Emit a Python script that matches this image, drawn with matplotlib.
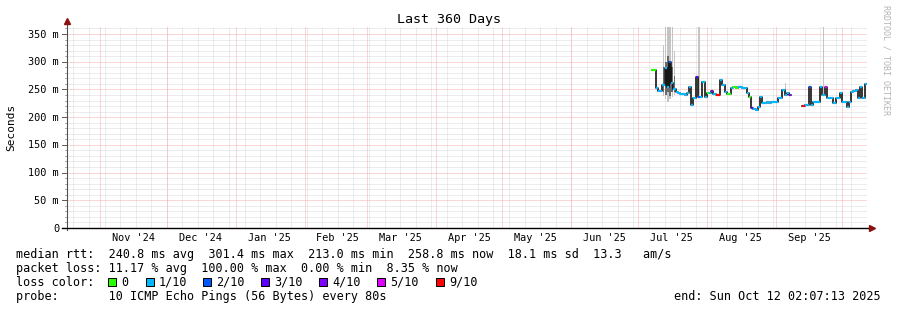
import numpy as np
import pandas as pd
import matplotlib
matplotlib.use("Agg")
import matplotlib.pyplot as plt
import matplotlib.dates as mdates
from matplotlib.patches import Rectangle

# time window of the graph
t_start = pd.Timestamp("2024-10-17 02:07:13")
t_end = pd.Timestamp("2025-10-12 02:07:13")

# one median rtt per day (ms), starting 2025-07-07, nan = no data
first_day = "2025-07-07"
median_ms = [285, 285, 252, 248, 247, 258, 289, 255, 300, 262,
             250, 246, 243, 242, 241, 240, 243, 255, 222, 234,
             272, 236, 237, 263, 236, 243, 243, 247, 242, 240,
             240, 267, 258, 245, 242, 242, 253, 254, 253, 254,
             254, 253, 253, 244, 237, 217, 215, 213, 218, 237,
             226, 226, 227, 226, 227, 228, 228, 235, 234, 249,
             240, 243, 240, np.nan, np.nan, np.nan, np.nan, np.nan, 220, 222,
             222, 255, 222, 227, 227, 228, 255, 240, 254, 235,
             234, 234, 225, 234, 234, 243, 228, 228, 219, 228,
             246, 248, 249, 235, 254, 235, 259]
# lost pings out of 10 per day
loss = [0, 0, 1, 1, 1, 1, 1, 1, 2, 1,
        1, 1, 1, 1, 1, 1, 1, 1, 1, 1,
        3, 2, 1, 1, 1, 0, 1, 4, 1, 9,
        9, 1, 1, 1, 0, 0, 1, 0, 0, 1,
        1, 1, 1, 1, 0, 3, 1, 1, 1, 1,
        1, 1, 1, 1, 1, 1, 1, 1, 1, 1,
        1, 1, 4, 0, 0, 0, 0, 0, 9, 1,
        1, 2, 1, 1, 1, 1, 1, 1, 5, 1,
        1, 1, 1, 1, 1, 1, 1, 1, 1, 1,
        1, 1, 1, 1, 1, 1, 1]

# smoke (spread of the single pings), day index -> min / max in ms
smoke_day = [5, 6, 7, 8, 9, 10, 21, 60, 77]
smoke_lo = [238, 232, 228, 232, 236, 240, 240, 245, 240]
smoke_hi = [330, 365, 365, 365, 365, 320, 365, 262, 365]
dense_day = [5, 6, 7, 8, 9, 10]
dense_lo = [245, 240, 245, 238, 245, 245]
dense_hi = [290, 300, 310, 300, 290, 275]

loss_colors = {0: "#26ff00", 1: "#00b8ff", 2: "#0059ff", 3: "#5e00ff",
               4: "#7e00ff", 5: "#dd00ff", 9: "#ff0000"}
legend_loss = [0, 1, 2, 3, 4, 5, 9]
legend_text = ["0", "1/10", "2/10", "3/10", "4/10", "5/10", "9/10"]
legend_left = [108, 145.5, 203, 261, 319, 377, 435.5]

y_ticks = [0, 50, 100, 150, 200, 250, 300, 350]
ymax = 362.6

line_rtt = "median rtt:  240.8 ms avg  301.4 ms max  213.0 ms min  258.8 ms now  18.1 ms sd  13.3   am/s"
line_loss = "packet loss: 11.17 % avg  100.00 % max  0.00 % min  8.35 % now"
line_probe = "probe:       10 ICMP Echo Pings (56 Bytes) every 80s"
end_text = "end: Sun Oct 12 02:07:13 2025"

mono = "DejaVu Sans Mono"
W, H = 897, 310

fig = plt.figure(figsize=(W / 100, H / 100), dpi=100)
fig.patch.set_facecolor("white")
ax = fig.add_axes([67 / W, 82 / H, 800 / W, 201 / H])
ax.set_xlim(mdates.date2num(t_start), mdates.date2num(t_end))
ax.set_ylim(0, ymax)
ax.axis("off")

dotted = (0, (1, 1))

# grid
for d in pd.date_range("2024-10-20", t_end, freq="7D"):
    ax.axvline(mdates.date2num(d), color="#dadada", lw=0.72, ls=dotted, zorder=1)
for v in range(10, 361, 10):
    if v % 50:
        ax.axhline(v, color="#dadada", lw=0.72, ls=dotted, zorder=1)
for d in pd.date_range("2024-11-01", t_end, freq="MS"):
    ax.axvline(mdates.date2num(d), color="#f5b0b0", lw=0.72, ls=dotted, zorder=2)
for v in y_ticks[1:]:
    ax.axhline(v, color="#f5b0b0", lw=0.72, ls=dotted, zorder=2)

# data
days = pd.date_range(first_day, periods=len(median_ms), freq="D") + pd.Timedelta(hours=12)
xd = mdates.date2num(days)
med = np.array(median_ms, dtype=float)

ax.bar(xd[smoke_day], np.array(smoke_hi) - np.array(smoke_lo), bottom=smoke_lo,
       width=0.6, color="#c4c4c4", zorder=3)
ax.bar(xd[dense_day], np.array(dense_hi) - np.array(dense_lo), bottom=dense_lo,
       width=0.8, color="#6a6a6a", zorder=3)
ax.step(xd, med, where="mid", color="black", lw=1.1, zorder=4)
ok = ~np.isnan(med)
cols = [loss_colors[l] for l, k in zip(loss, ok) if k]
ax.hlines(med[ok], xd[ok] - 0.5, xd[ok] + 0.5, colors=cols, lw=1.6, zorder=5)

# axes lines and arrows
ax.plot([0, 0], [-2 / 201, 1 + 4 / 201], transform=ax.transAxes, color="#505050",
        lw=0.8, clip_on=False, zorder=6)
ax.plot([-5 / 800, 1 + 3 / 800], [0, 0], transform=ax.transAxes, color="black",
        lw=1.0, clip_on=False, zorder=6)
ax.plot([0], [1 + 6 / 201], marker="^", ms=4.5, color="#8b1010", mec="#8b1010",
        transform=ax.transAxes, clip_on=False, zorder=7)
ax.plot([1 + 5 / 800], [0], marker=">", ms=4.5, color="#8b1010", mec="#8b1010",
        transform=ax.transAxes, clip_on=False, zorder=7)

# y ticks and labels
for v in range(10, 361, 10):
    major = v % 50 == 0
    ln = 5 if major else 2
    ax.plot([-ln / 800, 0], [v / ymax] * 2, transform=ax.transAxes,
            color="#606060" if major else "#b0b0b0", lw=0.72, clip_on=False)
for v in y_ticks:
    lab = "0" if v == 0 else "%d m" % v
    ax.text(-8 / 800, v / ymax - 3.6 / 201, lab, transform=ax.transAxes, ha="right",
            va="baseline", fontsize=7.4, family=mono)

# x labels, centred half a month after the month start
xtrans = ax.get_xaxis_transform()
for m in pd.date_range("2024-11-01", "2025-09-01", freq="MS"):
    c = m + pd.Timedelta(days=15)
    ax.text(mdates.date2num(c), -13 / 201, m.strftime("%b '%y"), transform=xtrans,
            ha="center", va="baseline", fontsize=7.4, family=mono)

# titles
fig.text(448.5 / W, 1 - 23.5 / H, "Last 360 Days", ha="center", va="baseline",
         fontsize=9.6, family=mono)
fig.text(11 / W, 1 - 127 / H, "Seconds", rotation=90, ha="center", va="center",
         fontsize=8, family=mono)
fig.text(886 / W, 1 - 60 / H, "RRDTOOL / TOBI OETIKER", rotation=270, ha="center",
         va="center", fontsize=6, family=mono, color="#b4b4b4")

# legend
fs = 8.5
fig.text(15.5 / W, 1 - 257.7 / H, line_rtt, ha="left", va="baseline", fontsize=fs, family=mono)
fig.text(15.5 / W, 1 - 271.7 / H, line_loss, ha="left", va="baseline", fontsize=fs, family=mono)
fig.text(15.5 / W, 1 - 285.7 / H, "loss color:", ha="left", va="baseline", fontsize=fs, family=mono)
for l, t, x in zip(legend_loss, legend_text, legend_left):
    fig.add_artist(Rectangle((x / W, 1 - 286 / H), 8 / W, 8 / H, transform=fig.transFigure,
                             facecolor=loss_colors[l], edgecolor="black", lw=0.72))
    fig.text((x + 13.5) / W, 1 - 285.7 / H, t, ha="left", va="baseline", fontsize=fs, family=mono)
fig.text(15.5 / W, 1 - 299.7 / H, line_probe, ha="left", va="baseline", fontsize=fs, family=mono)
fig.text(881 / W, 1 - 299.7 / H, end_text, ha="right", va="baseline", fontsize=fs, family=mono)

fig.savefig("out.png", dpi=100)
